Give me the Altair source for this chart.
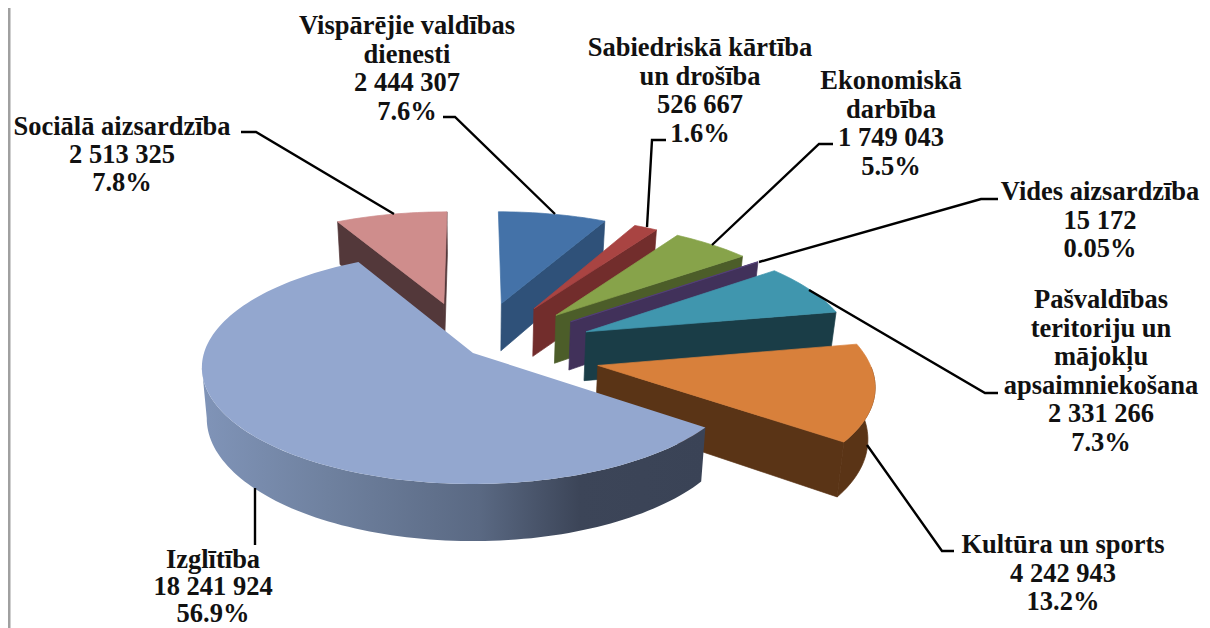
import math
import altair as alt

# ---- values ----
categories = ["Vispārējie valdības dienesti", "Sabiedriskā kārtība un drošība", "Ekonomiskā darbība",
              "Vides aizsardzība", "Pašvaldības teritoriju un mājokļu apsaimniekošana",
              "Kultūra un sports", "Izglītība", "Sociālā aizsardzība"]
values = [2444307, 526667, 1749043, 15172, 2331266, 4242943, 18241924, 2513325]
value_labels = ["2 444 307", "526 667", "1 749 043", "15 172", "2 331 266", "4 242 943", "18 241 924", "2 513 325"]
percent_labels = ["7.6%", "1.6%", "5.5%", "0.05%", "7.3%", "13.2%", "56.9%", "7.8%"]

# ---- styles ----
top_colors = ["#4472a8", "#a94442", "#87a34a", "#54407a", "#4096ae", "#d8803b", "#93a7cf", "#cf8d8c"]
side_colors = ["#2f5179", "#722d2c", "#4c5d29", "#41315a", "#1a3d47", "#5a3416", "#3a4356", "#53383a"]
explode = [0.47, 0.47, 0.47, 0.47, 0.47, 0.47, 0.0, 0.47]

# ---- layout (page pixels) ----
OFF = 8
CX, CY, RX, RY, K, DEPTH, SHRINK = 473, 353, 269, 114.6, 0.125, 50, 0.018
FONT = "Liberation Serif"
FS = 26.5

label_lines = [
    ["Vispārējie valdības", "dienesti"], ["Sabiedriskā kārtība", "un drošība"], ["Ekonomiskā", "darbība"],
    ["Vides aizsardzība"], ["Pašvaldības", "teritoriju un", "mājokļu", "apsaimniekošana"],
    ["Kultūra un sports"], ["Izglītība"], ["Sociālā aizsardzība"]]
label_x = [407, 700, 891, 1100, 1101, 1063, 213, 122]
label_y0 = [26, 48, 81, 192, 300, 545, 560, 127]
label_dy = [28.7, 28.7, 28.7, 28.5, 28.6, 28.5, 27, 28]
leaders = [
    [(443, 117), (455, 117), (555, 214)],
    [(666, 140), (652, 140), (647, 227)],
    [(833, 144), (819, 144), (712, 245)],
    [(998, 199), (981, 199), (759, 262)],
    [(998, 393), (985, 393), (809, 290)],
    [(954, 551), (942, 551), (867, 445)],
    [(255, 488), (255, 545)],
    [(241, 132), (256, 132), (394, 214)],
]


def project(u, v, z=0.0):
    w = 1 + K * v
    return [CX + (RX * u / w) * (1 - SHRINK * z) - OFF, CY - RY * v / w + z * DEPTH / w - OFF]


def feature(points, fill):
    ring = points + [points[0]]
    return {"type": "Feature", "properties": {"fill": fill},
            "geometry": {"type": "Polygon", "coordinates": [ring]}}


total = sum(values)
spans, start = [], 0.0
for val in values:
    end = start + val / total * 360
    spans.append((start, end))
    start = end


def rim(a, b, ou, ov, z=0.0):
    n = max(2, int(abs(b - a) / 1.5) + 1)
    out = []
    for i in range(n + 1):
        t = math.radians(a + (b - a) * i / n)
        out.append(project(ou + math.sin(t), ov + math.cos(t), z))
    return out


def slice_parts(i):
    a, b = spans[i]
    mid = math.radians((a + b) / 2)
    ou, ov = explode[i] * math.sin(mid), explode[i] * math.cos(mid)
    walls = []
    for ang, show in ((a, math.sin(math.radians(a)) < 0), (b, math.sin(math.radians(b)) > 0)):
        if show:
            t = math.radians(ang)
            p, q = (ou, ov), (ou + math.sin(t), ov + math.cos(t))
            walls.append([project(*p), project(*q), project(*q, 1), project(*p, 1)])
    lo, hi = max(a, 91), min(b, 263)
    arc = None
    if lo < hi:
        arc = rim(lo, hi, ou, ov) + rim(hi, lo, ou, ov, 1)
    top = [project(ou, ov)] + rim(a, b, ou, ov)
    return walls, arc, top


IZ = 6
back_features = []
for i in [7, 0, 1, 2, 3, 4, 5]:
    walls, arc, top = slice_parts(i)
    for w in walls:
        back_features.append(feature(w, side_colors[i]))
    if arc:
        back_features.append(feature(arc, side_colors[i]))
    back_features.append(feature(top, top_colors[i]))

_, iz_arc, iz_top = slice_parts(IZ)

projection = dict(type="identity", scale=1, translate=[0, 0])

back = (alt.Chart(alt.Data(values=back_features)).mark_geoshape(filled=True, strokeWidth=0.7)
        .encode(color=alt.Color("properties.fill:N", scale=None, legend=None),
                stroke=alt.Stroke("properties.fill:N", scale=None, legend=None))
        .project(**projection))

gradient = alt.Gradient(gradient="linear", x1=0, x2=1, y1=0, y2=0, stops=[
    alt.GradientStop(offset=0, color="#8094b8"),
    alt.GradientStop(offset=0.25, color="#6f819f"),
    alt.GradientStop(offset=0.55, color="#5a6983"),
    alt.GradientStop(offset=0.75, color="#3c4558"),
    alt.GradientStop(offset=1, color="#3a4356"),
])
iz_wall = (alt.Chart(alt.Data(values=[feature(iz_arc, "#000")]))
           .mark_geoshape(filled=True, strokeWidth=0, fill=gradient)
           .project(**projection))
iz_face = (alt.Chart(alt.Data(values=[feature(iz_top, top_colors[IZ])]))
           .mark_geoshape(filled=True, strokeWidth=0, fill=top_colors[IZ])
           .project(**projection))

# leader lines
leader_rows = []
for i, pts in enumerate(leaders):
    for j, (x, y) in enumerate(pts):
        leader_rows.append({"id": i, "o": j, "x": x - OFF, "y": y - OFF})
leader_layer = (alt.Chart(alt.Data(values=leader_rows)).mark_line(color="#000000", strokeWidth=2.4)
                .encode(x=alt.X("x:Q", scale=None, axis=None), y=alt.Y("y:Q", scale=None, axis=None),
                        detail="id:N", order="o:Q"))

# labels
text_rows = []
for i in range(len(categories)):
    lines = label_lines[i] + [value_labels[i], percent_labels[i]]
    for j, s in enumerate(lines):
        text_rows.append({"t": s, "x": label_x[i] - OFF, "y": label_y0[i] + j * label_dy[i] - OFF})
text_layer = (alt.Chart(alt.Data(values=text_rows))
              .mark_text(font=FONT, fontSize=FS, fontWeight="bold", color="#111111", align="center", baseline="middle")
              .encode(x=alt.X("x:Q", scale=None, axis=None), y=alt.Y("y:Q", scale=None, axis=None), text="t:N"))

# frame line at the left
frame = (alt.Chart(alt.Data(values=[{"a": 0}])).mark_rule(color="#a0a0a0", strokeWidth=3)
         .encode(x=alt.value(1), y=alt.value(0), y2=alt.value(620)))

chart = (alt.layer(frame, back, iz_wall, iz_face, leader_layer, text_layer)
         .resolve_scale(x="independent", y="independent")
         .properties(width=1194, height=620, padding=0, background="#ffffff",
                     autosize=alt.AutoSizeParams(type="none"))
         .configure_view(stroke=None))

chart.save("out.html", embed_options={"renderer": "svg", "actions": False})
